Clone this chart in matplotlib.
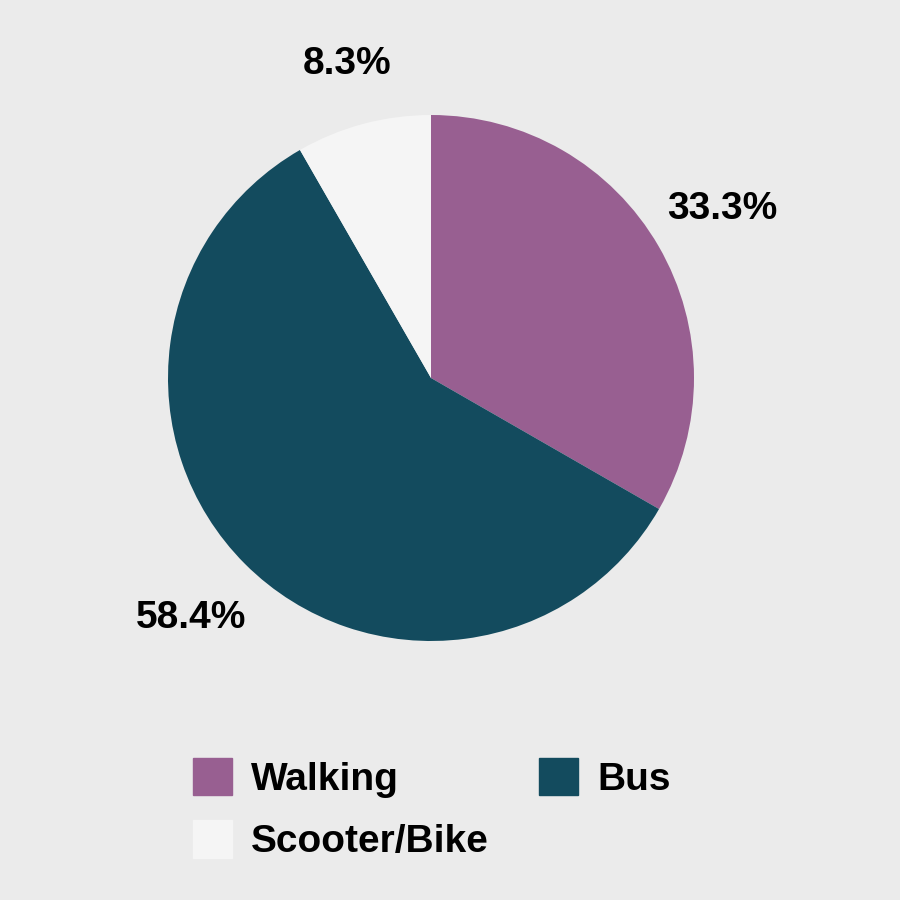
import numpy as np
import matplotlib.pyplot as plt
import matplotlib.patches as mpatches

# data
modes = ["Walking", "Bus", "Scooter/Bike"]
shares = [33.3, 58.4, 8.3]
colors = ["#985F91", "#134B5E", "#F5F5F5"]
BG = "#EBEBEB"
label_dist = [1.28, 1.29, 1.235]

plt.rcParams["font.family"] = ["Liberation Sans", "DejaVu Sans"]

fig = plt.figure(figsize=(9, 9), dpi=100, facecolor=BG)
# pie centre at (431, 378) px, radius ~263 px
r_frac = 263 / 900
ax = fig.add_axes([431 / 900 - r_frac, 1 - 378 / 900 - r_frac, 2 * r_frac, 2 * r_frac])
ax.set_facecolor(BG)

wedges, texts, autotexts = ax.pie(
    shares,
    colors=colors,
    startangle=90,
    counterclock=False,
    autopct="%.1f%%",
    pctdistance=1.28,
    radius=1.0,
    wedgeprops=dict(linewidth=0),
)
for w, t, d in zip(wedges, autotexts, label_dist):
    mid = np.deg2rad((w.theta1 + w.theta2) / 2)
    t.set_position((d * np.cos(mid), d * np.sin(mid)))
    t.set_fontsize(28)
    t.set_fontweight("bold")
    t.set_color("black")
ax.set_xlim(-1, 1)
ax.set_ylim(-1, 1)
ax.set_aspect("equal")
ax.axis("off")

# legend: row 1 Walking, Bus / row 2 Scooter/Bike
handles = [mpatches.Patch(color=colors[i], label=modes[i]) for i in (0, 2, 1)]
leg = fig.legend(
    handles=handles,
    loc="upper left",
    bbox_to_anchor=(193 / 900, 1 - 758 / 900),
    ncol=2,
    frameon=False,
    prop=dict(size=28, weight="bold"),
    handlelength=1.0,
    handleheight=1.1,
    handletextpad=0.5,
    columnspacing=1.28,
    labelspacing=0.58,
    borderaxespad=0,
    borderpad=0,
)

fig.savefig("out.png", dpi=100, facecolor=BG)
